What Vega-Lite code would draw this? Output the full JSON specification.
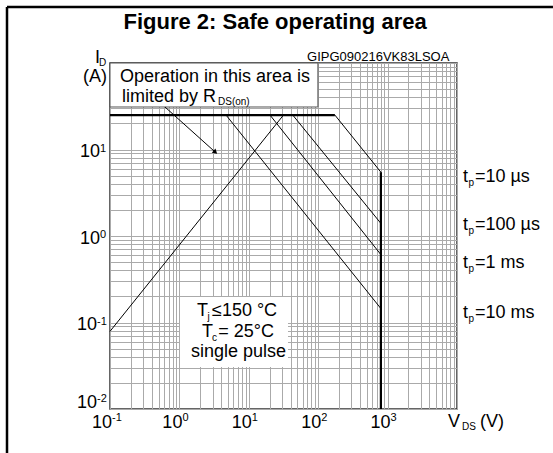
{
  "$schema": "https://vega.github.io/schema/vega-lite/v6.json",
  "width": 347,
  "height": 346,
  "autosize": "none",
  "padding": {"left": 110, "top": 63, "right": 96, "bottom": 44},
  "background": "white",
  "config": {
    "font": "Liberation Sans",
    "view": {"stroke": "#333333", "strokeWidth": 1.5},
    "axis": {
      "grid": true,
      "gridColor": "#aaaaaa",
      "gridWidth": 1,
      "gridOpacity": 1,
      "ticks": false,
      "domain": false,
      "labels": false,
      "title": null
    }
  },
  "datasets": {
    "boxes": [
      {"name": "rds", "V": 0.1, "V2": 99, "I": 31, "I2": 100},
      {"name": "cond", "V": 1.02, "V2": 36.7, "I": 0.0306, "I2": 0.197}
    ],
    "frame": [
      {"side": "top", "V": 0.00328, "V2": 241500, "I": 443.6, "I2": 443.6},
      {"side": "left", "V": 0.00328, "V2": 0.00328, "I": 443.6, "I2": 0.0031}
    ],
    "curves": [
      {"s": "limit_h", "k": "bound", "o": 1, "V": 0.1, "I": 25},
      {"s": "limit_h", "k": "bound", "o": 2, "V": 174, "I": 25},
      {"s": "limit_v", "k": "bound", "o": 1, "V": 800, "I": 5.47},
      {"s": "limit_v", "k": "bound", "o": 2, "V": 800, "I": 0.01},
      {"s": "tp_10us", "k": "curve", "o": 1, "V": 174, "I": 25},
      {"s": "tp_10us", "k": "curve", "o": 2, "V": 800, "I": 5.47},
      {"s": "tp_100us", "k": "curve", "o": 1, "V": 43, "I": 25},
      {"s": "tp_100us", "k": "curve", "o": 2, "V": 800, "I": 1.4},
      {"s": "tp_1ms", "k": "curve", "o": 1, "V": 20.2, "I": 25},
      {"s": "tp_1ms", "k": "curve", "o": 2, "V": 800, "I": 0.61},
      {"s": "tp_10ms", "k": "curve", "o": 1, "V": 4.7, "I": 25},
      {"s": "tp_10ms", "k": "curve", "o": 2, "V": 800, "I": 0.145},
      {"s": "rds_on", "k": "curve", "o": 1, "V": 0.1, "I": 0.079},
      {"s": "rds_on", "k": "curve", "o": 2, "V": 31.6, "I": 25},
      {"s": "arrow", "k": "curve", "o": 1, "V": 0.62, "I": 31},
      {"s": "arrow", "k": "curve", "o": 2, "V": 3.3, "I": 9.3}
    ],
    "arrowhead": [
      {"V": 3.3, "I": 9.3}
    ],
    "titleText": [
      {"t": "Figure 2: Safe operating area", "V": 23.9, "I": 250}
    ],
    "tickMain": [
      {"t": "10", "V": 0.1068, "I": 0.00603},
      {"t": "10", "V": 1.1047, "I": 0.00603},
      {"t": "10", "V": 11.047, "I": 0.00603},
      {"t": "10", "V": 110.47, "I": 0.00603},
      {"t": "10", "V": 1104.7, "I": 0.00603},
      {"t": "10", "V": 0.0718, "I": 8.19},
      {"t": "10", "V": 0.0718, "I": 0.819},
      {"t": "10", "V": 0.065, "I": 0.0819},
      {"t": "10", "V": 0.065, "I": 0.01027}
    ],
    "tickSup": [
      {"t": "-1", "V": 0.1068, "I": 0.00726},
      {"t": "0", "V": 1.1047, "I": 0.00726},
      {"t": "1", "V": 11.047, "I": 0.00726},
      {"t": "2", "V": 110.47, "I": 0.00726},
      {"t": "3", "V": 1104.7, "I": 0.00726},
      {"t": "1", "V": 0.0718, "I": 9.36},
      {"t": "0", "V": 0.0718, "I": 0.936},
      {"t": "-1", "V": 0.065, "I": 0.0936},
      {"t": "-2", "V": 0.065, "I": 0.01205}
    ],
    "mainText": [
      {"t": "Operation in this area is", "V": 0.139, "I": 60.3},
      {"t": "limited by R", "V": 0.149, "I": 35.4},
      {"t": "T", "V": 1.793, "I": 0.1189},
      {"t": "≤150 °C", "V": 2.95, "I": 0.1189},
      {"t": "T", "V": 2.116, "I": 0.0679},
      {"t": "= 25°C", "V": 3.62, "I": 0.0679},
      {"t": "single pulse", "V": 1.469, "I": 0.0399},
      {"t": "t", "V": 12210, "I": 4.21},
      {"t": "=10 µs", "V": 18150, "I": 4.21},
      {"t": "t", "V": 12210, "I": 1.173},
      {"t": "=100 µs", "V": 18150, "I": 1.173},
      {"t": "t", "V": 12210, "I": 0.4266},
      {"t": "=1 ms", "V": 18150, "I": 0.4266},
      {"t": "t", "V": 12210, "I": 0.1127},
      {"t": "=10 ms", "V": 18150, "I": 0.1127},
      {"t": "I", "V": 0.0608, "I": 100},
      {"t": "(A)", "V": 0.0408, "I": 60.3},
      {"t": "V", "V": 7413, "I": 0.00619},
      {"t": "(V)", "V": 21430, "I": 0.00619}
    ],
    "subText": [
      {"t": "DS(on)", "V": 3.6, "I": 32.7},
      {"t": "j", "V": 2.54, "I": 0.107},
      {"t": "c", "V": 2.95, "I": 0.0611},
      {"t": "p", "V": 14650, "I": 3.78},
      {"t": "p", "V": 14650, "I": 1.054},
      {"t": "p", "V": 14650, "I": 0.3838},
      {"t": "p", "V": 14650, "I": 0.1014},
      {"t": "D", "V": 0.0695, "I": 92.3},
      {"t": "DS", "V": 11800, "I": 0.00571}
    ],
    "codeText": [
      {"t": "GIPG090216VK83LSOA", "V": 69.0, "I": 105.5}
    ]
  },
  "layer": [
    {
      "data": {"name": "boxes"},
      "transform": [{"filter": "datum.name == 'rds'"}],
      "mark": {"type": "rect", "fill": "white", "stroke": "#555555", "strokeWidth": 1},
      "encoding": {
        "x": {
          "field": "V", "type": "quantitative",
          "scale": {"type": "log", "domain": [0.1, 10000], "nice": false},
          "axis": {
            "values": [0.1,0.2,0.3,0.4,0.5,0.6,0.7,0.8,0.9,1,2,3,4,5,6,7,8,9,10,20,30,40,50,60,70,80,90,100,200,300,400,500,600,700,800,900,1000,2000,3000,4000,5000,6000,7000,8000,9000,10000]
          }
        },
        "x2": {"field": "V2"},
        "y": {
          "field": "I", "type": "quantitative",
          "scale": {"type": "log", "domain": [0.01, 100], "nice": false},
          "axis": {
            "values": [0.01,0.02,0.03,0.04,0.05,0.06,0.07,0.08,0.09,0.1,0.2,0.3,0.4,0.5,0.6,0.7,0.8,0.9,1,2,3,4,5,6,7,8,9,10,20,30,40,50,60,70,80,90,100]
          }
        },
        "y2": {"field": "I2"}
      }
    },
    {
      "data": {"name": "boxes"},
      "transform": [{"filter": "datum.name == 'cond'"}],
      "mark": {"type": "rect", "fill": "white", "stroke": null},
      "encoding": {
        "x": {"field": "V", "type": "quantitative"},
        "x2": {"field": "V2"},
        "y": {"field": "I", "type": "quantitative"},
        "y2": {"field": "I2"}
      }
    },
    {
      "data": {"name": "curves"},
      "mark": {"type": "line", "color": "black", "strokeCap": "butt"},
      "encoding": {
        "x": {"field": "V", "type": "quantitative"},
        "y": {"field": "I", "type": "quantitative"},
        "detail": {"field": "s"},
        "order": {"field": "o"},
        "strokeWidth": {"field": "k", "type": "nominal", "scale": {"domain": ["bound", "curve"], "range": [2.2, 1]}, "legend": null}
      }
    },
    {
      "data": {"name": "arrowhead"},
      "mark": {"type": "point", "shape": "triangle-up", "filled": true, "color": "black", "size": 30, "angle": 132, "opacity": 1},
      "encoding": {
        "x": {"field": "V", "type": "quantitative"},
        "y": {"field": "I", "type": "quantitative"}
      }
    },
    {
      "data": {"name": "frame"},
      "mark": {"type": "rule", "color": "black", "strokeWidth": 2.5},
      "encoding": {
        "x": {"field": "V", "type": "quantitative"},
        "x2": {"field": "V2"},
        "y": {"field": "I", "type": "quantitative"},
        "y2": {"field": "I2"}
      }
    },
    {
      "data": {"name": "titleText"},
      "mark": {"type": "text", "font": "Liberation Sans", "fontSize": 22, "fontWeight": "bold", "align": "center", "baseline": "alphabetic", "color": "black"},
      "encoding": {
        "x": {"field": "V", "type": "quantitative"},
        "y": {"field": "I", "type": "quantitative"},
        "text": {"field": "t"}
      }
    },
    {
      "data": {"name": "tickMain"},
      "mark": {"type": "text", "font": "Liberation Sans", "fontSize": 18, "align": "right", "baseline": "alphabetic", "color": "black"},
      "encoding": {
        "x": {"field": "V", "type": "quantitative"},
        "y": {"field": "I", "type": "quantitative"},
        "text": {"field": "t"}
      }
    },
    {
      "data": {"name": "tickSup"},
      "mark": {"type": "text", "font": "Liberation Sans", "fontSize": 11, "align": "left", "baseline": "alphabetic", "color": "black"},
      "encoding": {
        "x": {"field": "V", "type": "quantitative"},
        "y": {"field": "I", "type": "quantitative"},
        "text": {"field": "t"}
      }
    },
    {
      "data": {"name": "mainText"},
      "mark": {"type": "text", "font": "Liberation Sans", "fontSize": 18, "align": "left", "baseline": "alphabetic", "color": "black"},
      "encoding": {
        "x": {"field": "V", "type": "quantitative"},
        "y": {"field": "I", "type": "quantitative"},
        "text": {"field": "t"}
      }
    },
    {
      "data": {"name": "subText"},
      "mark": {"type": "text", "font": "Liberation Sans", "fontSize": 10, "align": "left", "baseline": "alphabetic", "color": "black"},
      "encoding": {
        "x": {"field": "V", "type": "quantitative"},
        "y": {"field": "I", "type": "quantitative"},
        "text": {"field": "t"}
      }
    },
    {
      "data": {"name": "codeText"},
      "mark": {"type": "text", "font": "Liberation Sans", "fontSize": 13, "align": "left", "baseline": "alphabetic", "color": "black"},
      "encoding": {
        "x": {"field": "V", "type": "quantitative"},
        "y": {"field": "I", "type": "quantitative"},
        "text": {"field": "t"}
      }
    }
  ]
}
